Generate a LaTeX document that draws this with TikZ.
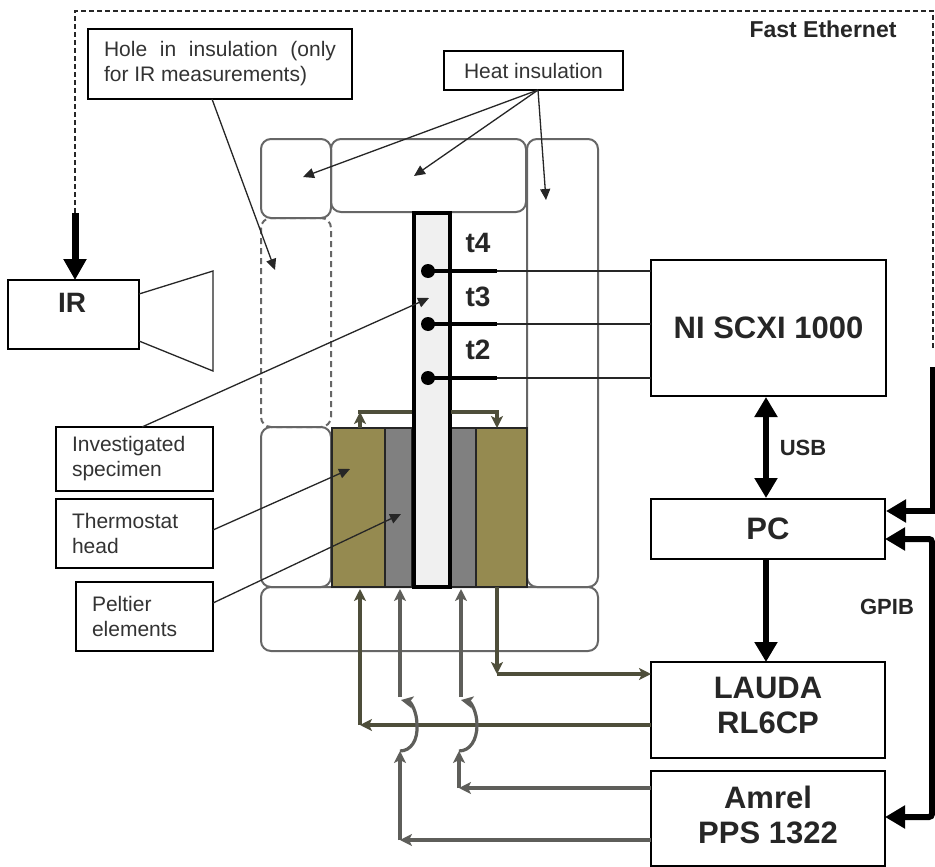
\documentclass[tikz,border=0pt]{standalone}
\usepackage{fontspec}
\setmainfont{Liberation Sans}
\usetikzlibrary{arrows.meta}
\definecolor{olivefill}{HTML}{958A50}
\definecolor{peltfill}{HTML}{808080}
\definecolor{specfill}{HTML}{F0F0F0}
\definecolor{insul}{HTML}{666666}
\definecolor{thline}{HTML}{4E4E3A}
\definecolor{peline}{HTML}{5E5E5A}
\newcommand{\fs}[1]{\fontsize{#1}{#1}\selectfont}
\tikzset{
  box/.style={draw=black,line width=1.5pt,fill=white,inner sep=0pt,outer sep=0pt},
  labelbox/.style={box,font=\fs{21},align=left,text=black!80,line width=1.4pt},
  devbox/.style={box,font=\bfseries\fs{31},align=center,text=black!85},
  insblock/.style={draw=insul,line width=2pt,rounded corners=10pt},
  holeblock/.style={insblock,dash pattern=on 6pt off 4pt},
  therm/.style={draw=black!85,line width=1.3pt,fill=olivefill},
  pelt/.style={draw=black!85,line width=1.3pt,fill=peltfill},
  thinarrow/.style={draw=black!85,line width=1.3pt,-{Stealth[length=11pt,width=10pt,inset=0pt]}},
  thinline/.style={draw=black!85,line width=1.3pt},
  busarrow/.style={draw=black,line width=6pt,-{Triangle[length=20pt,width=22pt]}},
  busboth/.style={draw=black,line width=6pt,{Triangle[length=20pt,width=22pt]}-{Triangle[length=20pt,width=22pt]}},
  busline/.style={draw=black,line width=6pt},
  thpipe/.style={draw=thline,line width=3.2pt,-{Stealth[length=12pt,width=12pt,inset=3pt]}},
  thplain/.style={draw=thline,line width=3.2pt},
  pepipe/.style={draw=peline,line width=3.2pt,-{Stealth[length=12pt,width=12pt,inset=3pt]}},
  wire/.style={draw=black!85,line width=1.4pt},
  sensor/.style={draw=black,line width=4.5pt},
  dot/.style={circle,fill=black,inner sep=0pt,minimum size=14pt},
  tlabel/.style={font=\bfseries\fs{28},text=black!85},
  buslabel/.style={font=\bfseries\fs{22},text=black!85},
  ether/.style={draw=black!85,line width=1.4pt,dash pattern=on 5pt off 3pt},
}
\begin{document}
\begin{tikzpicture}[x=1pt,y=-1pt]
\useasboundingbox (0,0) rectangle (935,867);
\fill[white] (0,0) rectangle (935,867);
% insulation
\draw[insblock] (261,139) rectangle (331,218);
\draw[insblock] (331,139) rectangle (526,212);
\draw[insblock] (527,139) rectangle (598,587);
\draw[holeblock] (261,218) rectangle (331,427);
\draw[insblock] (261,427) rectangle (331,587);
\draw[insblock] (261,587) rectangle (598,651);
% thermostat & Peltier
\node[therm,minimum width=53pt,minimum height=159pt,inner sep=0pt] (thL) at (358.5,507.5) {};
\node[pelt,minimum width=27pt,minimum height=159pt,inner sep=0pt] (peL) at (398.5,507.5) {};
\node[pelt,minimum width=25pt,minimum height=159pt,inner sep=0pt] (peR) at (463.5,507.5) {};
\node[therm,minimum width=51pt,minimum height=159pt,inner sep=0pt] (thR) at (501.5,507.5) {};
\node[draw=black,line width=4pt,fill=specfill,minimum width=36pt,minimum height=374pt,inner sep=0pt] (spec) at (431.5,400) {};
% devices
\node[devbox,minimum width=131pt,minimum height=69pt] (ir) at (73.5,314.5) {};
\node[font=\bfseries\fs{28},text=black!85] (irt) at (72,303) {IR};
\node[devbox,minimum width=235pt,minimum height=136pt] (ni) at (768.5,328) {NI SCXI 1000};
\node[devbox,minimum width=234pt,minimum height=60pt] (pc) at (768,529) {PC};
\node[devbox,minimum width=234pt,minimum height=96pt] (lauda) at (768,710) {};
\node[devbox,draw=none,fill=none] (laudat) at (768,688) {LAUDA};
\node[devbox,draw=none,fill=none] (laudab) at (768,723) {RL6CP};
\node[devbox,minimum width=234pt,minimum height=95pt] (amrel) at (768,818.5) {};
\node[devbox,draw=none,fill=none] (amrelt) at (768,797) {Amrel};
\node[devbox,draw=none,fill=none] (amrelb) at (768,833) {PPS 1322};
% IR horn
\coordinate (h1) at (ir.east |- 0,294);
\coordinate (h2) at (213,271);
\coordinate (h3) at (213,371);
\coordinate (h4) at (ir.east |- 0,341);
\draw[thinline] (h1) -- (h2) -- (h3) -- (h4);
% labels
\node[labelbox,minimum width=264pt,minimum height=70pt] (hole) at (220,64) {\makebox[232pt][s]{Hole in insulation (only}\\[4pt]for IR measurements)};
\node[labelbox,minimum width=179pt,minimum height=39pt] (heat) at (533.5,70.5) {Heat insulation};
\node[labelbox,minimum width=157pt,minimum height=64pt,text width=125pt] (inv) at (134.5,459) {Investigated\\[4pt]specimen};
\node[labelbox,minimum width=157pt,minimum height=69pt,text width=125pt] (tht) at (134.5,533.5) {Thermostat\\[4pt]head};
\node[labelbox,minimum width=137pt,minimum height=69pt,text width=105pt] (pel) at (144.5,616.5) {Peltier\\[4pt]elements};
% label arrows
\coordinate (hs) at (538,90);
\coordinate (hstipA) at (303,177);
\coordinate (hstipB) at (414,176);
\coordinate (hstipC) at (546,200);
\coordinate (holetip) at (275,270);
\coordinate (holes) at (212,99);
\coordinate (invs) at (142,427);
\coordinate (invtip) at (429,298);
\coordinate (thts) at (213,530);
\coordinate (thtip) at (350,469);
\coordinate (pels) at (213,603);
\coordinate (peltip) at (401,514);
\draw[thinarrow] (hs) -- (hstipA);
\draw[thinarrow] (hs) -- (hstipB);
\draw[thinarrow] (hs) -- (hstipC);
\draw[thinarrow] (holes) -- (holetip);
\draw[thinarrow] (invs) -- (invtip);
\draw[thinarrow] (thts) -- (thtip);
\draw[thinarrow] (pels) -- (peltip);
% sensors
\foreach \nm/\yy/\lab/\ly in {a/271/t4/243,b/324/t3/297,c/378/t2/350}{
  \node[dot] (d\nm) at (428,\yy) {};
  \coordinate (e\nm) at (497,\yy);
  \coordinate (f\nm) at (ni.west |- 0,\yy);
  \draw[sensor] (d\nm.center) -- (e\nm);
  \draw[wire] (e\nm) -- (f\nm);
  \node[tlabel] (l\nm) at (478,\ly) {\lab};
}
% thermostat pipes above
\coordinate (ta) at (360,428);
\coordinate (tb) at (360,412);
\coordinate (tc) at (412,412);
\coordinate (td) at (451,412);
\coordinate (te) at (497,412);
\coordinate (tf) at (497,428);
\draw[thplain] (358.4,412) -- (tc);
\draw[thpipe] (ta) -- (tb);
\draw[thplain] (td) -- (498.6,412);
\draw[thpipe] (te) -- (tf);
% pipes below
\coordinate (pa) at (360,589);
\coordinate (pb) at (360,725);
\coordinate (pc1) at (400,589);
\coordinate (pc2) at (400,697);
\coordinate (pc3) at (400,751);
\coordinate (pc4) at (400,840);
\coordinate (pd1) at (461,589);
\coordinate (pd2) at (461,697);
\coordinate (pd3) at (459,751);
\coordinate (pd4) at (459,788);
\coordinate (pe1) at (497,587);
\coordinate (pe2) at (497,674);
\draw[thpipe] (lauda.west |- pb) -- (pb);
\draw[thpipe] (pb) -- (pa);
\draw[thpipe] (pe1) -- (pe2);
\draw[thpipe] (pe2) -- (lauda.west |- pe2);
\draw[pepipe] (pc2) -- (pc1);
\draw[pepipe] (pd2) -- (pd1);
\draw[pepipe] (pc3) .. controls (411,751) and (418,740) .. (417,725) .. controls (417,712) and (411,702) .. (401,700);
\draw[pepipe] (pd3) .. controls (470,751) and (477,740) .. (477,725) .. controls (477,712) and (471,702) .. (461,700);
\draw[pepipe] (pc4) -- (pc3);
\draw[pepipe] (pd4) -- (pd3);
\draw[pepipe] (amrel.west |- pc4) -- (pc4);
\draw[pepipe] (amrel.west |- pd4) -- (pd4);
% buses
\draw[busboth] (766,397) -- (766,498);
\draw[busarrow] (766,559) -- (766,662);
\draw[busline] (933,367) -- (933,511);
\draw[busarrow] (936,511) -- (886,511);
\coordinate (g1) at (pc.east |- 0,539);
\coordinate (g2) at (amrel.east |- 0,817);
\draw[draw=black,line width=6pt,{Triangle[length=20pt,width=22pt]}-{Triangle[length=20pt,width=22pt]},rounded corners=3pt] (g1) -- (932,539) -- (932,817) -- (g2);
% Ethernet
\coordinate (et1) at (75,213);
\coordinate (et2) at (75,11);
\coordinate (et3) at (933,11);
\coordinate (et4) at (933,350);
\draw[ether] (et1) -- (et2) -- (et3) -- (et4);
\draw[draw=black,line width=7pt,-{Triangle[length=21pt,width=22pt]}] (et1) -- (ir.north -| et1);
% bus labels
\node[buslabel] (usb) at (803,448) {USB};
\node[buslabel] (gpib) at (887,607) {GPIB};
\node[font=\bfseries\fs{23},text=black!85] (fe) at (823,29) {Fast Ethernet};
\end{tikzpicture}
\end{document}
